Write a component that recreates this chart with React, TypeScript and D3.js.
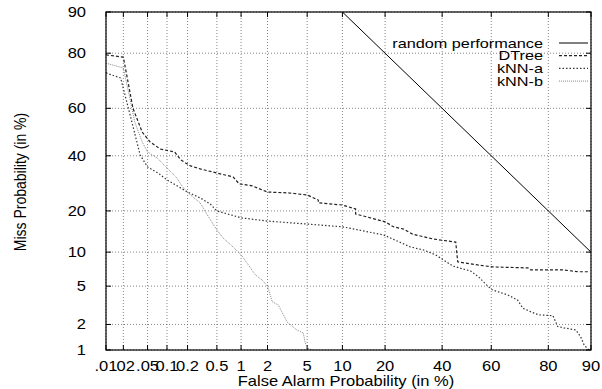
import React, { useEffect, useRef } from "react";
import * as d3 from "d3";

// axis ticks (in %)
const faTicks = [0.01, 0.02, 0.05, 0.1, 0.2, 0.5, 1, 2, 5, 10, 20, 40, 60, 80, 90];
const faLabels = [".01", ".02", ".05", "0.1", "0.2", "0.5", "1", "2", "5", "10", "20", "40", "60", "80", "90"];
const missTicks = [1, 2, 5, 10, 20, 40, 60, 80, 90];
const missLabels = ["1", "2", "5", "10", "20", "40", "60", "80", "90"];

// curves as [false alarm %, miss %]
const randomPerf = [[10, 90], [90, 10]];
const dtree = [
  [0.01, 79.5], [0.02, 78.8], [0.029, 60], [0.041, 50], [0.055, 45.8], [0.079, 42.8],
  [0.13, 41.6], [0.16, 38.3], [0.22, 35.9], [0.3, 34.7], [0.5, 33.1], [0.8, 31.6],
  [0.95, 29], [1.35, 28.3], [2, 26.1], [3.3, 25.8], [5, 25.1], [6.3, 23.4], [6.3, 22.5],
  [10, 21.8], [12.6, 20.6], [12.6, 19.1], [16, 18], [20, 16.9], [22.5, 15.6], [25.8, 15],
  [28.8, 13.8], [36.3, 12.7], [45.5, 12], [46.3, 8.3], [54.5, 7.8], [60.5, 7.5],
  [73.6, 7.35], [74.5, 7.05], [84.2, 7.05], [87.4, 6.8], [89.8, 6.8],
];
const knnA = [
  [0.01, 73.6], [0.018, 71.8], [0.026, 57.2], [0.038, 40.3], [0.05, 35.5], [0.073, 33.1],
  [0.1, 30.5], [0.15, 27.9], [0.2, 26.1], [0.3, 24.1], [0.41, 22.1], [0.5, 20], [1, 18],
  [2, 17.1], [5, 16.3], [10, 15.6], [19.6, 13.6], [21.6, 12.9], [28.1, 11], [32.9, 10.4],
  [37.4, 9.5], [40.6, 8.6], [44.2, 7.65], [48.4, 7.2], [51.6, 6.9], [54.9, 6.1], [58.6, 5],
  [60.5, 4.6], [66.4, 4.1], [70, 3.65], [71.9, 3], [74.6, 2.75], [77.1, 2.55], [81.3, 2.5],
  [82.6, 1.9], [84.2, 1.83], [87, 1.73], [88, 1.44], [88.7, 1.15], [89.6, 1],
];
const knnB = [
  [0.01, 76.9], [0.02, 75.3], [0.025, 65.4], [0.031, 54.3], [0.041, 45.8], [0.05, 41.6],
  [0.071, 39.1], [0.1, 35.1], [0.14, 31.2], [0.17, 27.9], [0.22, 25.1], [0.3, 22.5],
  [0.39, 18.2], [0.5, 14.8], [0.6, 12.9], [0.8, 11], [1, 9.5], [1.22, 7.8], [1.46, 6.4],
  [1.75, 5.7], [2, 5], [2.25, 3.5], [2.6, 3.25], [3.2, 2.13], [4, 1.73], [4.6, 1.6],
  [4.8, 1.22], [5, 1.06], [5.6, 1],
];

const seriesNames = ["random performance", "DTree", "kNN-a", "kNN-b"];

// inverse normal CDF (Acklam)
function probit(pct: number) {
  const p = pct / 100;
  const a = [-39.69683028665376, 220.9460984245205, -275.9285104469687, 138.357751867269, -30.66479806614716, 2.506628277459239];
  const b = [-54.47609879822406, 161.5858368580409, -155.6989798598866, 66.80131188771972, -13.28068155288572];
  const c = [-0.007784894002430293, -0.3223964580411365, -2.400758277161838, -2.549671010229346, 4.374664141464968, 2.938163982698783];
  const d = [0.007784695709041462, 0.3224671290700398, 2.445134137142996, 3.754408661907416];
  const pl = 0.02425;
  if (p < pl) {
    const q = Math.sqrt(-2 * Math.log(p));
    return (((((c[0] * q + c[1]) * q + c[2]) * q + c[3]) * q + c[4]) * q + c[5]) / ((((d[0] * q + d[1]) * q + d[2]) * q + d[3]) * q + 1);
  }
  if (p <= 1 - pl) {
    const q = p - 0.5;
    const r = q * q;
    return ((((((a[0] * r + a[1]) * r + a[2]) * r + a[3]) * r + a[4]) * r + a[5]) * q) / (((((b[0] * r + b[1]) * r + b[2]) * r + b[3]) * r + b[4]) * r + 1);
  }
  const q = Math.sqrt(-2 * Math.log(1 - p));
  return -(((((c[0] * q + c[1]) * q + c[2]) * q + c[3]) * q + c[4]) * q + c[5]) / ((((d[0] * q + d[1]) * q + d[2]) * q + d[3]) * q + 1);
}

function App() {
  const svgRef = useRef(null);
  const width = 602;
  const height = 389;

  useEffect(() => {
    const svg = d3.select(svgRef.current);
    svg.selectAll("*").remove();

    const left = 106, right = 591, top = 12, bottom = 350;
    const font = "'Liberation Sans', Arial, sans-serif";

    const x = d3.scaleLinear().domain([probit(0.01), probit(90)]).range([left, right]);
    const y = d3.scaleLinear().domain([probit(1), probit(90)]).range([bottom, top]);

    // text in the original is a bit stretched horizontally
    const label = (tx, ty, txt, anchor, rot = 0, size = 14, sx = 1.18) =>
      svg
        .append("text")
        .attr("transform", `translate(${tx},${ty}) scale(${sx},1)${rot ? ` rotate(${rot})` : ""}`)
        .attr("text-anchor", anchor)
        .style("font-family", font)
        .style("font-size", `${size}px`)
        .attr("fill", "#000")
        .text(txt);

    // grid
    const grid = svg.append("g").attr("stroke", "#666").attr("stroke-width", 0.8).attr("stroke-dasharray", "1,2");
    faTicks.forEach((t) => {
      grid.append("line").attr("x1", x(probit(t))).attr("x2", x(probit(t))).attr("y1", top).attr("y2", bottom);
    });
    missTicks.forEach((t) => {
      grid.append("line").attr("x1", left).attr("x2", right).attr("y1", y(probit(t))).attr("y2", y(probit(t)));
    });

    // ticks (mirrored, inward)
    const ticks = svg.append("g").attr("stroke", "#000").attr("stroke-width", 1);
    faTicks.forEach((t) => {
      const px = x(probit(t));
      ticks.append("line").attr("x1", px).attr("x2", px).attr("y1", bottom).attr("y2", bottom - 5);
      ticks.append("line").attr("x1", px).attr("x2", px).attr("y1", top).attr("y2", top + 5);
    });
    missTicks.forEach((t) => {
      const py = y(probit(t));
      ticks.append("line").attr("x1", left).attr("x2", left + 5).attr("y1", py).attr("y2", py);
      ticks.append("line").attr("x1", right).attr("x2", right - 5).attr("y1", py).attr("y2", py);
    });

    svg.append("defs").append("clipPath").attr("id", "plot-clip")
      .append("rect").attr("x", left).attr("y", top).attr("width", right - left).attr("height", bottom - top);

    const line = d3.line().x((d) => x(probit(d[0]))).y((d) => y(probit(d[1])));

    const styles = [
      { data: randomPerf, stroke: "#000", dash: null, w: 1 },
      { data: dtree, stroke: "#222", dash: "3,2", w: 1.2 },
      { data: knnA, stroke: "#333", dash: "1.5,2", w: 1.2 },
      { data: knnB, stroke: "#888", dash: "1,1", w: 1 },
    ];

    const curves = svg.append("g").attr("clip-path", "url(#plot-clip)");
    styles.forEach((s) => {
      curves
        .append("path")
        .datum(s.data)
        .attr("fill", "none")
        .attr("stroke", s.stroke)
        .attr("stroke-width", s.w)
        .attr("stroke-dasharray", s.dash)
        .attr("d", line);
    });

    // frame
    svg.append("rect").attr("x", left).attr("y", top).attr("width", right - left).attr("height", bottom - top)
      .attr("fill", "none").attr("stroke", "#000").attr("stroke-width", 1.2);

    // tick labels
    faTicks.forEach((t, i) => label(x(probit(t)), 371, faLabels[i], "middle"));
    missTicks.forEach((t, i) => label(86, y(probit(t)) + 5, missLabels[i], "end"));

    // axis titles
    label(346, 386, "False Alarm Probability (in %)", "middle");
    label(26, 182, "Miss Probability (in %)", "middle", -90);

    // legend
    styles.forEach((s, i) => {
      const ly = 43 + i * 12.7;
      label(543, ly + 4.5, seriesNames[i], "end", 0, 13, 1.25);
      svg.append("line").attr("x1", 559).attr("x2", 588).attr("y1", ly).attr("y2", ly)
        .attr("stroke", s.stroke).attr("stroke-width", s.w).attr("stroke-dasharray", s.dash);
    });
  }, []);

  return (
    <svg ref={svgRef} width={width} height={height} style={{ position: "absolute", left: 0, top: 0, background: "#fff" }}></svg>
  );
}

export default App;
